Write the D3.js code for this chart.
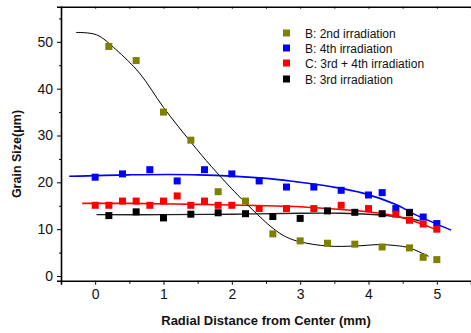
<!DOCTYPE html>
<html lang="en">
<head>
    <meta charset="UTF-8">
    <title>Grain Size vs Radial Distance</title>
    <script src="https://d3js.org/d3.v7.min.js"></script>
    <style>
        body {
            margin: 0;
            background-color: white;
            font-family: "Liberation Sans", Arial, sans-serif;
        }
        svg {
            display: block;
        }
        .tick text {
            font-family: "Liberation Sans", Arial, sans-serif;
        }
    </style>
</head>
<body>
    <script>
        // Measured points (x in mm, y in µm)
        const names = ["B: 2nd irradiation", "B: 4th irradiation", "C: 3rd + 4th irradiation", "B: 3rd irradiation"];
        const colors = ["#808000", "#0000ff", "#ff0000", "#000000"];

        const olivePts = [[0.2, 49.0], [0.6, 46.0], [1.0, 35.0], [1.4, 29.0], [1.8, 18.0], [2.2, 16.0],
            [2.6, 9.0], [3.0, 7.5], [3.4, 7.0], [3.8, 6.8], [4.2, 6.2], [4.6, 6.0], [4.8, 4.0], [5.0, 3.5]];
        const bluePts = [[0, 21.1], [0.4, 21.8], [0.8, 22.7], [1.2, 20.3], [1.6, 22.7], [2.0, 21.8],
            [2.4, 20.3], [2.8, 19.0], [3.2, 19.0], [3.6, 18.3], [4.0, 17.3], [4.2, 17.8], [4.4, 14.4],
            [4.6, 13.6], [4.8, 12.6], [5.0, 11.2]];
        const redPts = [[0, 15.1], [0.2, 15.1], [0.4, 16.0], [0.6, 16.0], [0.8, 15.1], [1.0, 16.0],
            [1.2, 17.1], [1.4, 15.1], [1.6, 16.0], [1.8, 15.1], [2.0, 15.1], [2.4, 14.4], [2.8, 14.4],
            [3.2, 14.4], [3.6, 15.1], [4.0, 14.4], [4.4, 13.2], [4.6, 11.9], [4.8, 11.1], [5.0, 10.0]];
        const blackPts = [[0.2, 12.9], [0.6, 13.7], [1.0, 12.4], [1.4, 13.2], [1.8, 13.5], [2.2, 13.3],
            [2.6, 12.7], [3.0, 12.3], [3.4, 13.9], [3.8, 13.6], [4.2, 13.3], [4.6, 13.5]];

        // Fitted curves
        const oliveFit = [[-0.28, 52.0], [0.02, 51.5], [0.3, 48.4], [0.65, 43.3], [1.0, 36.0], [1.4, 28.6],
            [1.7, 23.4], [2.0, 18.6], [2.3, 14.2], [2.6, 10.2], [2.8, 8.3], [3.0, 7.3], [3.4, 6.4],
            [3.8, 6.4], [4.15, 6.7], [4.4, 6.5], [4.6, 6.0], [4.88, 4.2]];
        const blueFit = [[-0.38, 21.3], [0.5, 21.6], [1.5, 21.6], [2.46, 20.9], [2.95, 20.1], [3.44, 19.1],
            [3.92, 17.7], [4.41, 15.2], [4.7, 13.0], [5.21, 9.8]];
        const redFit = [[-0.19, 15.5], [0.5, 15.5], [1.5, 15.3], [2.5, 15.0], [3.0, 14.8], [3.6, 14.2],
            [4.0, 13.7], [4.4, 12.8], [4.8, 11.0], [5.0, 9.8]];
        const blackFit = [[0.02, 13.1], [1.0, 13.1], [2.0, 13.2], [3.0, 13.4], [3.6, 13.4], [4.0, 13.2],
            [4.4, 12.7], [4.75, 11.8]];

        const xTicks = [0, 1, 2, 3, 4, 5];
        const yTicks = [0, 10, 20, 30, 40, 50];

        const width = 471, height = 333;
        const svg = d3.select("body").append("svg")
            .attr("width", width)
            .attr("height", height);

        const x = d3.scaleLinear().domain([-0.5, 5.5]).range([61, 471]);
        const y = d3.scaleLinear().domain([-1, 57.5]).range([280.7, 6.7]);

        // Fit lines
        const line = d3.line()
            .x(d => x(d[0]))
            .y(d => y(d[1]))
            .curve(d3.curveCatmullRom.alpha(0.5));

        const fits = [
            {data: blueFit, color: "#0000ff", w: 1.6},
            {data: blackFit, color: "#222", w: 1.4},
            {data: redFit, color: "#ff0000", w: 1.6},
            {data: oliveFit, color: "#000", w: 1}
        ];
        svg.selectAll(".fit")
            .data(fits)
            .enter()
            .append("path")
            .attr("class", "fit")
            .attr("d", d => line(d.data))
            .attr("fill", "none")
            .attr("stroke", d => d.color)
            .attr("stroke-width", d => d.w);

        // Points
        const s = 7;
        const series = [
            {data: olivePts, color: colors[0]},
            {data: bluePts, color: colors[1]},
            {data: blackPts, color: colors[3]},
            {data: redPts, color: colors[2]}
        ];
        series.forEach(ser => {
            svg.append("g")
                .selectAll("rect")
                .data(ser.data)
                .enter()
                .append("rect")
                .attr("x", d => x(d[0]) - s / 2)
                .attr("y", d => y(d[1]) - s / 2)
                .attr("width", s)
                .attr("height", s)
                .attr("fill", ser.color);
        });

        // Axes
        const xMinor = d3.range(-0.5, 5.51, 0.5).filter(v => Math.abs(v - Math.round(v)) > 0.1);
        const yMinor = d3.range(5, 56, 10);

        const xAxis = svg.append("g")
            .attr("transform", "translate(0,280.7)")
            .call(d3.axisBottom(x).tickValues(xTicks).tickSize(4).tickPadding(4).tickFormat(d3.format("d")));
        xAxis.selectAll("text").style("font-size", "14px").attr("fill", "#111");
        xAxis.select(".domain").attr("stroke-width", 1.6);

        svg.append("g")
            .attr("transform", "translate(0,280.7)")
            .call(d3.axisBottom(x).tickValues(xMinor).tickSize(3).tickFormat(""))
            .select(".domain").remove();

        const yAxis = svg.append("g")
            .attr("transform", "translate(61,0)")
            .call(d3.axisLeft(y).tickValues(yTicks).tickSize(4).tickPadding(4));
        yAxis.selectAll("text").style("font-size", "14px").attr("fill", "#111");
        yAxis.select(".domain").attr("stroke-width", 1.6);

        svg.append("g")
            .attr("transform", "translate(61,0)")
            .call(d3.axisLeft(y).tickValues(yMinor).tickSize(2).tickFormat(""))
            .select(".domain").remove();

        // Top frame line with small ticks
        svg.append("g")
            .attr("transform", "translate(0,6.7)")
            .call(d3.axisTop(x).tickValues(d3.range(0, 5.51, 0.5)).tickSize(-2).tickFormat(""))
            .select(".domain").attr("stroke-width", 1.4);

        // Axis titles
        svg.append("text")
            .attr("x", 266)
            .attr("y", 325)
            .attr("text-anchor", "middle")
            .style("font-size", "13px")
            .style("font-weight", "bold")
            .attr("fill", "#111")
            .text("Radial Distance from Center (mm)");

        svg.append("text")
            .attr("transform", "translate(21,154) rotate(-90)")
            .attr("text-anchor", "middle")
            .style("font-size", "12.5px")
            .style("font-weight", "bold")
            .attr("fill", "#111")
            .text("Grain Size(μm)");

        // Legend
        const legendY = [33, 48, 63, 79];
        const legend = svg.selectAll(".legend")
            .data(names)
            .enter()
            .append("g")
            .attr("class", "legend")
            .attr("transform", (d, i) => `translate(283,${legendY[i]})`);

        legend.append("rect")
            .attr("x", 0)
            .attr("y", -3.5)
            .attr("width", 7)
            .attr("height", 7)
            .attr("fill", (d, i) => colors[i]);

        legend.append("text")
            .attr("x", 22)
            .attr("y", 4.5)
            .style("font-size", "12px")
            .attr("fill", "#111")
            .text(d => d);
    </script>
</body>
</html>
